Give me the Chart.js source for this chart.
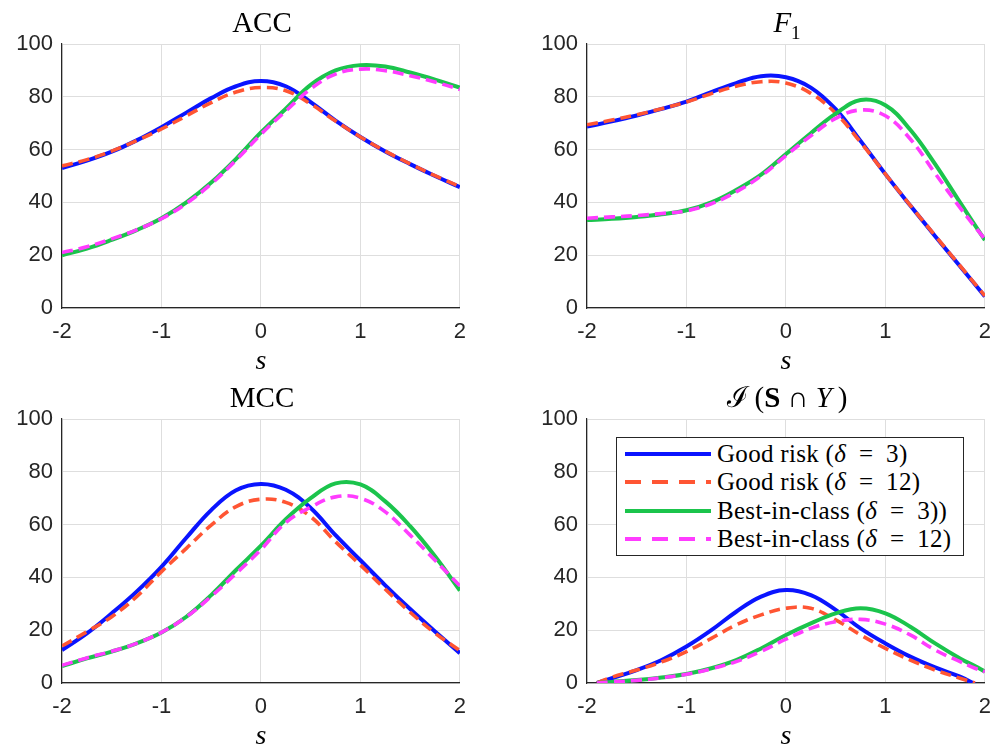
<!DOCTYPE html>
<html>
<head>
<meta charset="utf-8">
<script src="https://cdn.jsdelivr.net/npm/chart.js@4.4.1/dist/chart.umd.min.js"></script>
<style>
	body { margin: 0; width: 995px; height: 746px; overflow: hidden; background: #fff; position: relative; }
	canvas { position: absolute; }
	.title { position: absolute; width: 400px; text-align: center; font-family: 'Liberation Serif', 'DejaVu Serif', serif; font-size: 29px; line-height: 30px; color: #000; }
	.legend { position: absolute; left: 616px; top: 437px; width: 346px; height: 117px; border: 1px solid #262626; background: #fff; }
	.row { position: absolute; left: 0; height: 28px; width: 346px; }
	.row svg { position: absolute; left: 8px; top: 0; }
	.row span { position: absolute; left: 100px; top: 0; font-family: 'Liberation Serif', 'DejaVu Serif', serif; font-size: 25px; line-height: 28px; white-space: nowrap; color: #000; letter-spacing: 0.3px; }
</style>
</head>
<body>
<script>
/* values, s = -2 .. 2 */
var sGrid = [-2, -1.75, -1.5, -1.25, -1, -0.75, -0.5, -0.25, 0, 0.25, 0.5, 0.75, 1, 1.25, 1.5, 1.75, 2];
var sGridInf = [-1.9, -1.75, -1.5, -1.25, -1, -0.75, -0.5, -0.25, 0, 0.25, 0.5, 0.75, 1, 1.25, 1.5, 1.75, 1.9, 2];
var xTicks = [-2, -1, 0, 1, 2];
var yTicks = [0, 20, 40, 60, 80, 100];

var seriesNames = ['Good risk (\u03B4 = 3)', 'Good risk (\u03B4 = 12)', 'Best-in-class (\u03B4 = 3))', 'Best-in-class (\u03B4 = 12)'];

var accGood3 = [53, 55.8, 59.2, 63.5, 68.5, 74, 79.5, 84, 86, 84, 78, 71, 64.8, 59.3, 54.5, 50, 45.8];
var accGood12 = [53.8, 56.2, 59.4, 63.4, 67.8, 72.8, 77.8, 81.8, 83.5, 82.3, 77.3, 70.8, 64.8, 59.4, 54.6, 50.1, 46];
var accBest3 = [20, 22.5, 25.8, 29.5, 34, 40, 47.5, 56.5, 66.5, 75.5, 84.5, 90, 92, 91.5, 89.2, 86.5, 83.5];
var accBest12 = [21, 23.2, 26.2, 29.6, 33.8, 39.6, 47, 56, 65.8, 74.6, 83, 88.6, 90.5, 89.9, 88, 85.6, 82.8];

var f1Good3 = [68.7, 70.7, 72.9, 75.4, 78.2, 81.8, 85.2, 87.8, 87.4, 83.5, 75.3, 63.3, 50.7, 38.8, 27.2, 15.8, 4.4];
var f1Good12 = [69.4, 71.2, 73.2, 75.5, 78, 81.2, 84, 85.7, 85.2, 81.3, 73.8, 62.8, 50.7, 38.9, 27.4, 16, 4.6];
var f1Best3 = [33.3, 33.8, 34.5, 35.5, 37, 40, 44.7, 50.5, 58.3, 66.2, 73.6, 78.8, 76.8, 67.5, 54.5, 40, 25.7];
var f1Best12 = [34, 34.5, 35, 35.8, 36.8, 39.5, 44, 50, 57.7, 65.2, 71.8, 75, 72.8, 64, 51, 38, 26];

var mccGood3 = [12.5, 18.8, 26.4, 34.6, 44, 55, 65.5, 73, 75.4, 73.2, 66.3, 56, 46.5, 37, 28, 19.5, 11.3];
var mccGood12 = [14, 19.4, 25.1, 32.7, 42.2, 51, 59.8, 66.8, 69.6, 68.4, 63, 53.5, 44.7, 35.5, 26.8, 18.9, 12.3];
var mccBest3 = [6.4, 9.3, 11.9, 15, 19.1, 25.1, 33.3, 42.8, 52, 62, 70, 75.6, 75.2, 68.8, 59.4, 48, 35];
var mccBest12 = [6.7, 9.5, 12, 15, 19.2, 25, 32.8, 41.5, 50.5, 60.8, 66.6, 70.5, 70, 64.8, 56, 46.5, 36.8];

var infGood3 = [0, 1.8, 4.9, 8.7, 13.8, 20, 27, 32.7, 35.2, 33.3, 27.7, 20.7, 15, 10, 5.9, 2.4, -0.4, null];
var infGood12 = [0, 2.2, 4.9, 8, 11.9, 16.9, 22, 25.8, 28.3, 28.3, 23.9, 18.2, 13.1, 8.7, 4.9, 1.8, 0, null];
var infBest3 = [0, 0.4, 1.1, 2.1, 3.4, 5.6, 8.7, 13.1, 18.2, 22.6, 26.4, 28.3, 26.4, 21.3, 15, 9.3, 6.4, 4.3];
var infBest12 = [0, 0.4, 1, 2, 3.3, 5.4, 8.1, 12, 16.6, 20.7, 23.2, 24.1, 22.3, 18.2, 12.5, 8.1, 5.6, 4.3];

var colors = ['#0a14ff', '#ff5533', '#1bc44c', '#ff3cff'];
var dashes = [[], [11, 6], [], [11, 6]];
var legendDashes = [[], [16, 11], [], [16, 11]];
var axisColor = '#262626';
var gridColor = '#dedede';

/* panels: canvas position and the series to draw */
var panels = [
	{ left: 0, top: 0, title: 'ACC', s: sGrid, values: [accGood3, accGood12, accBest3, accBest12] },
	{ left: 525, top: 0, title: '<i>F</i><sub style="font-size:19px">1</sub>', s: sGrid, values: [f1Good3, f1Good12, f1Best3, f1Best12] },
	{ left: 0, top: 375, title: 'MCC', s: sGrid, values: [mccGood3, mccGood12, mccBest3, mccBest12] },
	{ left: 525, top: 375, title: '\u2110\u2009(<b>S</b> \u2229 <i>Y</i>\u2009)', s: sGridInf, values: [infGood3, infGood12, infBest3, infBest12] }
];

function toPoints(s, v) {
	var pts = [];
	for (var i = 0; i < s.length; i++) {
		if (v[i] !== null) pts.push({ x: s[i], y: v[i] });
	}
	return pts;
}

function makePanel(p) {
	var canvas = document.createElement('canvas');
	canvas.width = 477;
	canvas.height = 378;
	canvas.style.left = p.left + 'px';
	canvas.style.top = p.top + 'px';
	document.body.appendChild(canvas);

	var title = document.createElement('div');
	title.className = 'title';
	title.style.left = (p.left + 62) + 'px';
	title.style.top = (p.top + 7) + 'px';
	title.innerHTML = p.title;
	document.body.appendChild(title);

	var datasets = p.values.map(function (v, i) {
		return {
			label: seriesNames[i],
			data: toPoints(p.s, v),
			borderColor: colors[i],
			borderWidth: i % 2 === 0 ? 4 : 3.6,
			borderDash: dashes[i],
			pointRadius: 0,
			tension: 0.4,
			fill: false,
			order: 4 - i
		};
	});

	new Chart(canvas, {
		type: 'line',
		data: { datasets: datasets },
		options: {
			responsive: false,
			animation: false,
			devicePixelRatio: 1,
			layout: { padding: { left: 0, right: 15, top: 44, bottom: 0 } },
			plugins: { legend: { display: false }, tooltip: { enabled: false } },
			scales: {
				x: {
					type: 'linear', min: -2, max: 2,
					afterBuildTicks: function (scale) { scale.ticks = xTicks.map(function (t) { return { value: t }; }); },
					afterFit: function (scale) { scale.height = 70; },
					ticks: { padding: 11, color: axisColor, maxRotation: 0, font: { family: 'Liberation Sans', size: 22 } },
					grid: { color: gridColor, drawTicks: false },
					border: { color: axisColor, width: 1.2 },
					title: { display: true, text: 's', color: '#000', padding: { top: 0, bottom: 2 }, font: { family: 'Liberation Serif', style: 'italic', size: 28, lineHeight: 1 } }
				},
				y: {
					min: 0, max: 100,
					afterBuildTicks: function (scale) { scale.ticks = yTicks.map(function (t) { return { value: t }; }); },
					afterFit: function (scale) { scale.width = 62; },
					ticks: { padding: 9, color: axisColor, font: { family: 'Liberation Sans', size: 22 } },
					grid: { color: gridColor, drawTicks: false },
					border: { color: axisColor, width: 1.2 }
				}
			}
		}
	});
}

panels.forEach(makePanel);

/* legend inside the last panel */
var legend = document.createElement('div');
legend.className = 'legend';
seriesNames.forEach(function (name, i) {
	var row = document.createElement('div');
	row.className = 'row';
	row.style.top = (2 + i * 28.3) + 'px';
	var dash = legendDashes[i].length ? ' stroke-dasharray="' + legendDashes[i].join(' ') + '"' : '';
	var label = name.replace('\u03B4', '<i>\u03B4</i>').replace(' = ', '\u2002=\u2002');
	row.innerHTML = '<svg width="86" height="28"><line x1="0" y1="14" x2="86" y2="14" stroke="' + colors[i] + '" stroke-width="4"' + dash + '/></svg>' +
		'<span>' + label + '</span>';
	legend.appendChild(row);
});
document.body.appendChild(legend);
</script>
</body>
</html>
